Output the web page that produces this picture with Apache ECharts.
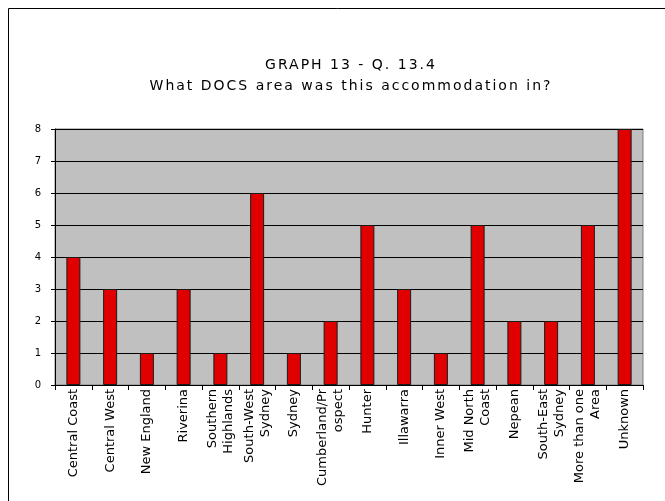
<!DOCTYPE html>
<html>
<head>
<meta charset="utf-8">
<script src="https://cdn.jsdelivr.net/npm/echarts@6/dist/echarts.min.js"></script>
<style>
  html, body { margin: 0; padding: 0; background: #fff; }
  #chart { width: 665px; height: 501px; }
</style>
</head>
<body>
<div id="chart"></div>
<script>
const categories = [
  'Central Coast', 'Central West', 'New England', 'Riverina',
  'Southern\nHighlands', 'South-West\nSydney', 'Sydney', 'Cumberland/Pr\nospect',
  'Hunter', 'Illawarra', 'Inner West', 'Mid North\nCoast',
  'Nepean', 'South-East\nSydney', 'More than one\nArea', 'Unknown'
]
const counts = [4, 3, 1, 3, 1, 6, 1, 2, 5, 3, 1, 5, 2, 2, 5, 8]
const yTicks = [0, 1, 2, 3, 4, 5, 6, 7, 8]

const chart = echarts.init(document.getElementById('chart'))

// title sits on its own canvas layer so it can get the wide letter spacing of the original
const titleLayer = chart.getZr().painter.getLayer(2)
if (titleLayer && titleLayer.ctx) titleLayer.ctx.letterSpacing = '2px'

chart.setOption({
  backgroundColor: '#ffffff',
  animation: false,
  title: {
    zlevel: 2,
    text: 'GRAPH 13 - Q. 13.4\nWhat DOCS area was this accommodation in?',
    left: 346,
    textAlign: 'center',
    top: 50,
    textStyle: {
      fontFamily: 'DejaVu Sans',
      fontSize: 14,
      fontWeight: 'normal',
      color: '#000',
      lineHeight: 21
    }
  },
  graphic: [
    {
      type: 'rect',
      shape: { x: 8.5, y: 8.5, width: 700, height: 600 },
      style: { fill: 'none', stroke: '#000', lineWidth: 1 },
      silent: true
    }
  ],
  grid: {
    left: 55,
    right: 22,
    top: 129,
    bottom: 116,
    show: true,
    backgroundColor: '#c0c0c0',
    borderColor: '#808080',
    borderWidth: 1
  },
  xAxis: {
    type: 'category',
    data: categories,
    axisLine: { lineStyle: { color: '#000', width: 1 } },
    axisTick: { show: true, length: 5, lineStyle: { color: '#000' } },
    axisLabel: {
      rotate: 90,
      interval: 0,
      margin: 4,
      fontFamily: 'DejaVu Sans',
      fontSize: 13,
      color: '#000',
      lineHeight: 16,
      align: 'right',
      verticalAlign: 'middle'
    }
  },
  yAxis: {
    type: 'value',
    min: yTicks[0],
    max: yTicks[yTicks.length - 1],
    interval: 1,
    axisLine: { show: true, lineStyle: { color: '#000' } },
    axisTick: { show: true, length: 4, lineStyle: { color: '#000' } },
    axisLabel: {
      fontFamily: 'DejaVu Sans',
      fontSize: 10,
      color: '#000',
      margin: 14
    },
    splitLine: { show: true, lineStyle: { color: '#000', width: 1 } }
  },
  series: [
    {
      type: 'bar',
      data: counts,
      barWidth: 14,
      itemStyle: {
        color: '#e00000',
        borderColor: '#1a1a1a',
        borderWidth: 1
      }
    }
  ]
})
</script>
</body>
</html>
